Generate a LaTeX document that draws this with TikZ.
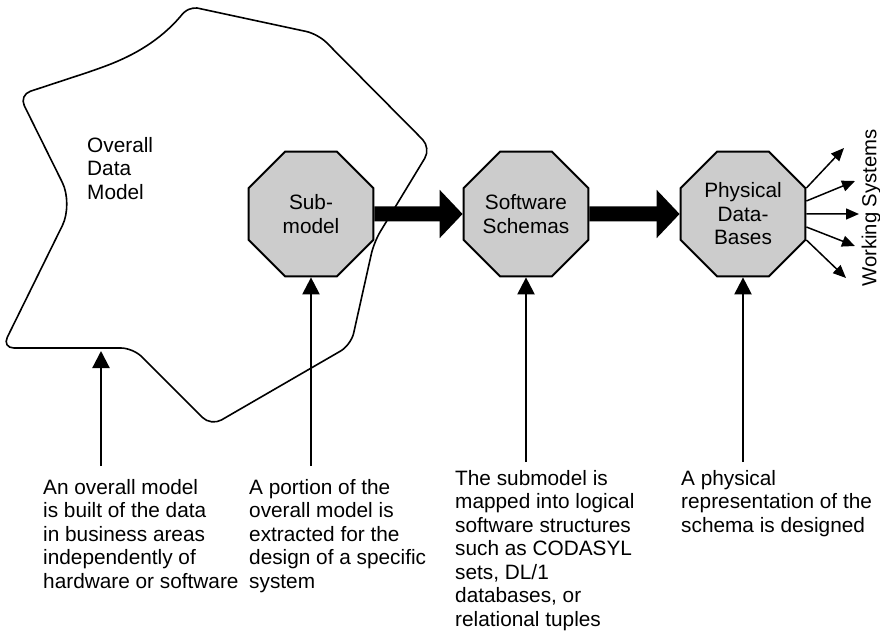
\documentclass[tikz,border=0pt]{standalone}
\usepackage{fontspec}
\setmainfont{Liberation Sans}
\usetikzlibrary{arrows.meta,shapes.geometric,calc}
\begin{document}
\begin{tikzpicture}[x=1pt,y=-1pt,
  txt/.style={font=\fontsize{20.8}{23.5}\selectfont, align=left, inner sep=0pt, anchor=north west},
  octa/.style={regular polygon, regular polygon sides=8, minimum size=135pt, inner sep=0pt,
    draw, line width=2pt, fill=black!20, font=\fontsize{20.8}{23.5}\selectfont, align=center},
  blob/.style={line width=1.6pt, rounded corners=12pt, line join=round},
  flow/.style={line width=15pt, -{Triangle[length=23pt,width=47pt]}},
  pointer/.style={line width=2.2pt, -{Triangle[length=17pt,width=17pt]}},
  fan/.style={line width=1.5pt, -{Triangle[length=13pt,width=11pt]}}]

\fill[white] (0,0) rectangle (880,639);
\useasboundingbox (0,0) rectangle (880,639);

% outline of the overall data model
\draw[blob] (250,19.4) -- (318,34) -- (431,148) -- (374,242) -- (351,345)
  -- (211,426) -- (133,348) -- (2,348) [rounded corners=24pt] -- (73,204)
  [rounded corners=12pt] -- (19,95) -- (95,70)
  [sharp corners] .. controls (135,55) and (160,40) .. (180,17)
  .. controls (186,9) and (191,8) .. (197,8) -- cycle;

\node[txt] (overall) at (87,137) {Overall\\Data\\Model};

% process stages
\node[octa] (sub)  at (311,214) {Sub-\\model};
\node[octa] (soft) at (526,214) {Software\\Schemas};
\node[octa] (phys) at (743,214) {Physical\\Data-\\Bases};

\draw[flow] (sub.east) -- (soft.west);
\draw[flow] (soft.east) -- (phys.west);

% outputs
\coordinate (w1) at (844,148);
\coordinate (w2) at (855,181);
\coordinate (w3) at (859,214);
\coordinate (w4) at (855,246);
\coordinate (w5) at (846,278);
\draw[fan] ($(phys.east)+(0,-26)$) -- (w1);
\draw[fan] ($(phys.east)+(0,-13)$) -- (w2);
\draw[fan] (phys.east) -- (w3);
\draw[fan] ($(phys.east)+(0,13)$) -- (w4);
\draw[fan] ($(phys.east)+(0,26)$) -- (w5);
\node[rotate=90, inner sep=0pt, font=\fontsize{20.3}{23.5}\selectfont] (ws) at (871.2,208) {Working Systems};

% explanation pointers
\coordinate (t1) at (101,351);
\coordinate (b1) at (101,466);
\coordinate (b2) at (sub.south |- b1);
\coordinate (b3) at (soft.south |- 0,462);
\coordinate (b4) at (phys.south |- 0,462);
\draw[pointer] (b1) -- (t1);
\draw[pointer] (b2) -- (sub.south);
\draw[pointer] (b3) -- (soft.south);
\draw[pointer] (b4) -- (phys.south);

\node[txt] (l1) at (43,479) {An overall model\\is built of the data\\in business areas\\independently of\\hardware or software};
\node[txt] (l2) at (249,479) {A portion of the\\overall model is\\extracted for the\\design of a specific\\system};
\node[txt] (l3) at (455,470) {The submodel is\\mapped into logical\\software structures\\such as CODASYL\\sets, DL/1\\databases, or\\relational tuples};
\node[txt] (l4) at (681,470) {A physical\\representation of the\\schema is designed};
\end{tikzpicture}
\end{document}
